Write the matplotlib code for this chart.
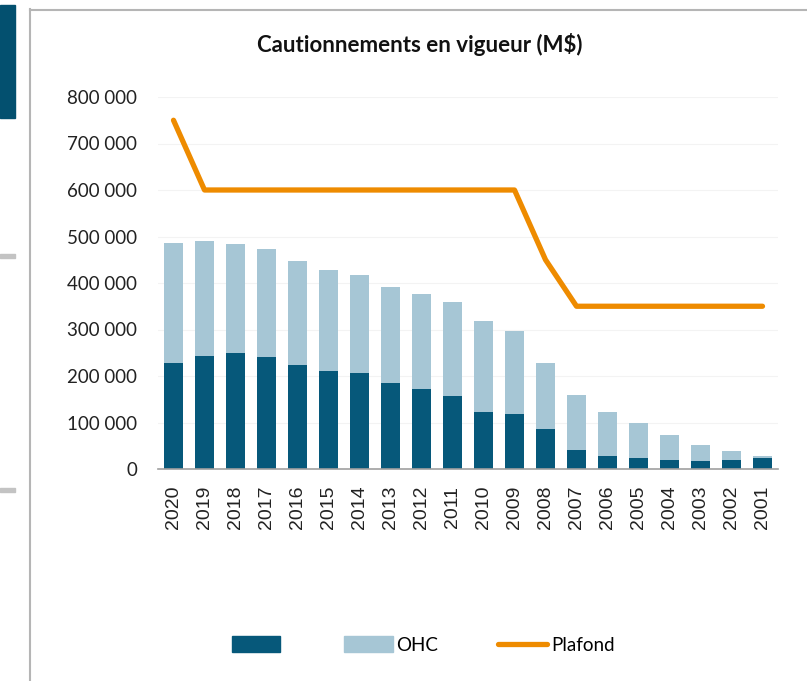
import numpy as np
import matplotlib.pyplot as plt
from matplotlib.patches import Patch, Rectangle
from matplotlib.lines import Line2D
from matplotlib.ticker import FuncFormatter

# --- data ---
years = ["2020", "2019", "2018", "2017", "2016", "2015", "2014", "2013", "2012", "2011",
         "2010", "2009", "2008", "2007", "2006", "2005", "2004", "2003", "2002", "2001"]
dark = [228000, 243000, 250000, 241000, 224000, 210000, 207000, 186000, 171000, 156000,
        123000, 118000, 86000, 40000, 28000, 24000, 19000, 17000, 19000, 23000]
total = [487000, 491000, 483000, 474000, 448000, 427000, 418000, 392000, 377000, 360000,
         319000, 297000, 228000, 159000, 123000, 98000, 73000, 52000, 38000, 28000]
plafond = [750000, 600000, 600000, 600000, 600000, 600000, 600000, 600000, 600000, 600000,
           600000, 600000, 450000, 350000, 350000, 350000, 350000, 350000, 350000, 350000]
ohc = [t - d for t, d in zip(total, dark)]

c_dark = '#06587A'
c_light = '#A6C6D5'
c_orange = '#EE8B00'

W, H = 807, 681
fig = plt.figure(figsize=(W / 100, H / 100), dpi=100)
fig.patch.set_facecolor('white')

# page decorations around the chart (screenshot frame)
fig.add_artist(Line2D([30 / W, 30 / W], [1 - 9 / H, 0], color='#b5b5b5', lw=1.5))
fig.add_artist(Line2D([30 / W, 1], [1 - 9.5 / H, 1 - 9.5 / H], color='#b5b5b5', lw=1.5))
fig.add_artist(Rectangle((0, 1 - 118 / H), 15 / W, 113 / H, color='#03506F',
                         transform=fig.transFigure))
for yy in (256.5, 489.5):
    fig.add_artist(Rectangle((0, 1 - (yy + 2) / H), 15 / W, 4 / H, color='#c3c3c3',
                             transform=fig.transFigure))

ax = fig.add_axes([158 / W, 1 - 469 / H, 620 / W, (469 - 97) / H])
x = np.arange(len(years))
ax.bar(x, dark, width=0.64, color=c_dark, zorder=2)
ax.bar(x, ohc, width=0.64, bottom=dark, color=c_light, zorder=2)
ax.plot(x, plafond, color=c_orange, lw=3.8, zorder=3, solid_capstyle='round')

ax.set_xlim(-0.5, len(years) - 0.5)
ax.set_ylim(0, 800000)
ax.set_yticks(np.arange(0, 800001, 100000))
ax.yaxis.set_major_formatter(FuncFormatter(lambda v, p: f"{int(v):,}".replace(",", " ")))
ax.set_xticks(x)
ax.set_xticklabels(years, rotation=90, fontsize=14, family='Liberation Sans')
for lab in ax.get_yticklabels():
    lab.set_family('Lato')
    lab.set_fontsize(13.5)
ax.tick_params(axis='both', length=0, colors='#222222')
ax.tick_params(axis='y', pad=15)
ax.tick_params(axis='x', pad=12)
ax.grid(axis='y', color='#f3f3f3', lw=0.8, zorder=0)
for s in ('top', 'right', 'left'):
    ax.spines[s].set_visible(False)
ax.spines['bottom'].set_color('#a0a0a0')
ax.spines['bottom'].set_linewidth(1.2)

fig.text(419.5 / W, 1 - 45 / H, "Cautionnements en vigueur (M$)", ha='center', va='center',
         fontsize=16, fontweight='bold', family='Lato', color='#111111')

handles = [Patch(color=c_dark), Patch(color=c_light),
           Line2D([], [], color=c_orange, lw=3.8, solid_capstyle='round')]
labels = ["", "OHC", "Plafond"]
fig.legend(handles, labels, loc='center', bbox_to_anchor=(423 / W, 1 - 645 / H), ncol=3,
           frameon=False, prop={'family': 'Lato', 'size': 13.5}, handlelength=2.6,
           handleheight=0.9, handletextpad=0.2, columnspacing=3.2)

fig.savefig('out.png', dpi=100)
